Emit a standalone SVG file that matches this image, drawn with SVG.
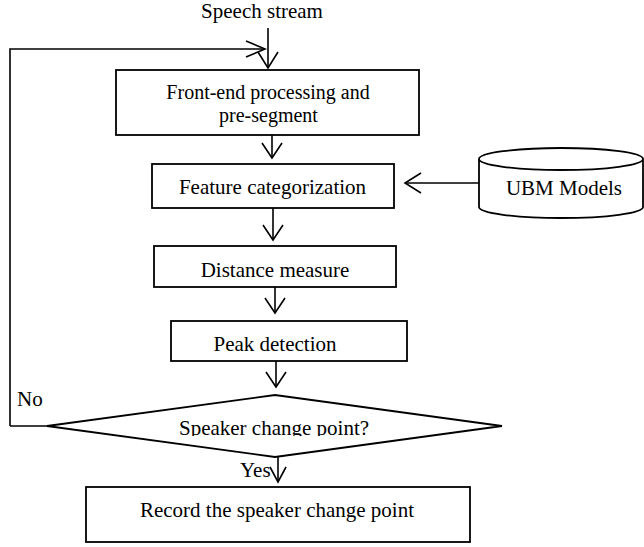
<svg xmlns="http://www.w3.org/2000/svg" width="644" height="547" viewBox="0 0 644 547">
<style>
.box{fill:#fff;stroke:#000;stroke-width:1.8}
.ln{fill:none;stroke:#000;stroke-width:1.6}
.ah{fill:none;stroke:#000;stroke-width:1.6;stroke-linejoin:miter}
text{font-family:"Liberation Serif","Times New Roman",serif;font-size:21px;fill:#000}
.c{text-anchor:middle}
.two{font-size:20px}
</style>
<defs>
<clipPath id="dclip"><rect x="0" y="380" width="644" height="56"/></clipPath>
</defs>
<rect width="644" height="547" fill="#fff"/>
<text class="c" x="262" y="18">Speech stream</text>
<g id="n-front">
<rect class="box" x="116" y="70" width="303" height="65"/>
<text class="c two" x="268" y="98.5">Front-end processing and</text>
<text class="c two" x="268.5" y="121.5">pre-segment</text>
</g>
<g id="n-feature">
<rect class="box" x="152" y="164" width="242" height="44"/>
<text class="c" x="272.5" y="194">Feature categorization</text>
</g>
<g id="n-ubm">
<path class="box" d="M479,159 L479,207 A82,11 0 0 0 643,207 L643,159 A82,11 0 0 0 479,159 A82,11 0 0 0 643,159"/>
<text class="c" x="564" y="195">UBM Models</text>
</g>
<g id="n-distance">
<rect class="box" x="154" y="246" width="242" height="41"/>
<text class="c" x="275" y="277">Distance measure</text>
</g>
<g id="n-peak">
<rect class="box" x="171" y="321" width="236" height="40"/>
<text class="c" x="275" y="351">Peak detection</text>
</g>
<g id="n-decision">
<polygon class="box" points="47,426 275,395 502,426 275,457"/>
<text class="c" x="274" y="435" clip-path="url(#dclip)">Speaker change point?</text>
</g>
<g id="n-record">
<rect class="box" x="86" y="487" width="384" height="55"/>
<text class="c" x="277" y="517">Record the speaker change point</text>
</g>
<g id="connectors">
<path class="ln" d="M268,28 L268,68"/>
<path class="ah" d="M258,52 L268,68 L278,52"/>
<path class="ln" d="M10,426 L47,426 M10,426 L10,49 L265,49"/>
<path class="ah" d="M246,41 L265,49 L246,57"/>
<path class="ln" d="M272,135 L272,158"/>
<path class="ah" d="M262,143 L272,158 L282,143"/>
<path class="ln" d="M479,183 L405,183"/>
<path class="ah" d="M421,173 L405,183 L421,193"/>
<path class="ln" d="M273,208 L273,240"/>
<path class="ah" d="M263,225 L273,240 L283,225"/>
<path class="ln" d="M275,287 L275,313"/>
<path class="ah" d="M265,298 L275,313 L285,298"/>
<path class="ln" d="M276,361 L276,387"/>
<path class="ah" d="M266,372 L276,387 L286,372"/>
<path class="ln" d="M278,457 L278,482"/>
<path class="ah" d="M270,467 L278,482 L286,467"/>
<text x="17" y="406">No</text>
<text x="240" y="477">Yes</text>
</g>
</svg>
